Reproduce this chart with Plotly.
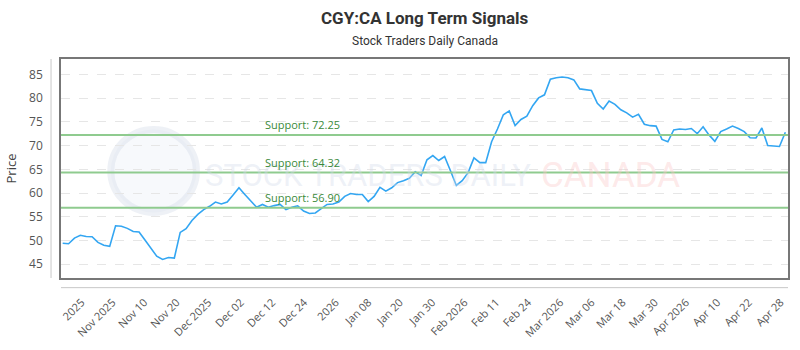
import plotly.graph_objects as go

title = "CGY:CA Long Term Signals"
subtitle = "Stock Traders Daily Canada"

prices = [
    49.4, 49.3, 50.5, 51.1, 50.85, 50.8, 49.6, 49.0, 48.75, 53.1,
    53.0, 52.55, 51.9, 51.8, 50.1, 48.4, 46.7, 46.0, 46.4, 46.3,
    51.7, 52.5, 54.2, 55.5, 56.5,
    57.2, 58.1, 57.7, 58.1, 59.6, 61.1, 59.7, 58.4, 57.0, 57.6,
    57.0, 57.35, 57.6, 56.5, 57.0, 57.3, 56.2, 55.7, 55.8, 56.7,
    57.6, 57.7, 58.1,
    59.3, 59.9, 59.7, 59.7, 58.2, 59.3, 61.2, 60.4, 61.1, 62.2,
    62.6, 63.1, 64.5, 63.7, 67.0, 67.9, 66.85, 67.7, 64.7, 61.6,
    62.6, 64.3, 67.4, 66.4, 66.4, 70.8,
    73.5, 76.5, 77.3, 74.2, 75.5, 76.2, 78.4, 80.05, 80.7, 84.0,
    84.3, 84.45, 84.3, 83.85, 81.95, 81.8, 81.6, 78.9, 77.7, 79.4,
    78.7, 77.55, 76.9, 76.0, 76.6,
    74.5, 74.2, 74.1, 71.3, 70.8, 73.3, 73.5, 73.4, 73.6, 72.5,
    73.95, 72.25, 70.9, 72.95, 73.5, 74.1, 73.6, 72.95, 71.65, 71.6,
    73.7, 70.0, 69.9, 69.8, 72.8,
]
x_idx = list(range(len(prices)))

tick_labels = ["2025", "Nov 2025", "Nov 10", "Nov 20", "Dec 2025", "Dec 02", "Dec 12",
               "Dec 24", "2026", "Jan 08", "Jan 20", "Jan 30", "Feb 2026", "Feb 11",
               "Feb 24", "Mar 2026", "Mar 06", "Mar 18", "Mar 30", "Apr 2026", "Apr 10",
               "Apr 22", "Apr 28"]
tick_pos = [3.2, 8.5, 13.9, 19.4, 24.8, 30.3, 35.7, 41.1, 46.5, 52.0, 57.4, 62.9,
            68.4, 73.8, 79.2, 84.7, 90.0, 95.3, 100.8, 106.1, 111.4, 116.8, 122.2]

supports = [72.25, 64.32, 56.90]

fig = go.Figure()
fig.add_trace(go.Scatter(x=x_idx, y=prices, mode="lines",
                         line=dict(color="#33a6f2", width=1.6),
                         hoverinfo="skip", showlegend=False))

shapes = []
annotations = []

# watermark (drawn first so it sits underneath)
shapes.append(dict(type="circle", xref="paper", yref="paper",
                   x0=(110 - 60) / 730, x1=(196 - 60) / 730,
                   y0=(286 - 218) / 227, y1=(286 - 132) / 227,
                   fillcolor="rgba(225,232,242,0.25)",
                   line=dict(color="rgba(205,215,230,0.35)", width=7), layer="below"))
annotations.append(dict(xref="paper", yref="paper", x=(203 - 60) / 730, y=(286 - 180) / 227,
                        text="STOCK TRADERS DAILY", showarrow=False, xanchor="left",
                        yanchor="middle",
                        font=dict(family="Roboto, sans-serif", size=31,
                                  color="rgba(212,220,234,0.4)")))
annotations.append(dict(xref="paper", yref="paper", x=(540 - 60) / 730, y=(286 - 180) / 227,
                        text="CANADA", showarrow=False, xanchor="left", yanchor="middle",
                        font=dict(family="Roboto, sans-serif", size=35,
                                  color="rgba(250,200,200,0.4)")))

for s in supports:
    shapes.append(dict(type="line", xref="paper", yref="y", x0=0, x1=1, y0=s, y1=s,
                       line=dict(color="#8fcb8f", width=2), layer="above"))
    annotations.append(dict(xref="paper", yref="y", x=(263 - 60) / 730, y=s,
                            text=f"Support: {s:.2f}", showarrow=False,
                            xanchor="left", yanchor="bottom", yshift=1,
                            font=dict(family="Open Sans, sans-serif", size=11, color="#3a8a3a")))

# offset axis lines (Highcharts style)
shapes.append(dict(type="line", xref="paper", yref="paper", x0=-10 / 730, x1=-10 / 730,
                   y0=0, y1=1, line=dict(color="#c8c8c8", width=1)))
shapes.append(dict(type="line", xref="paper", yref="paper", x0=0, x1=1,
                   y0=-10 / 227, y1=-10 / 227, line=dict(color="#c8c8c8", width=1)))

annotations.append(dict(xref="paper", yref="paper", x=0.5, xanchor="center",
                        y=(286 - 16) / 227, yanchor="middle", text=f"<b>{title}</b>",
                        showarrow=False,
                        font=dict(family="Roboto, sans-serif", size=17, color="#333333")))
annotations.append(dict(xref="paper", yref="paper", x=0.5, xanchor="center",
                        y=(286 - 40) / 227, yanchor="middle", text=subtitle,
                        showarrow=False,
                        font=dict(family="Roboto, sans-serif", size=12, color="#333333")))

fig.update_layout(
    width=800, height=350,
    margin=dict(l=60, r=10, t=59, b=64),
    paper_bgcolor="white", plot_bgcolor="white",
    shapes=shapes, annotations=annotations,
    xaxis=dict(range=[-0.29, 123.45], tickmode="array", tickvals=tick_pos,
               ticktext=tick_labels, tickangle=-45, showgrid=False, zeroline=False,
               ticks="outside", ticklen=12, tickcolor="rgba(0,0,0,0)",
               showline=True, mirror=True, linecolor="#777777", linewidth=1.5,
               tickfont=dict(family="Open Sans, sans-serif", size=11, color="#555555")),
    yaxis=dict(range=[42.09, 88.25], tickvals=[45, 50, 55, 60, 65, 70, 75, 80, 85],
               showgrid=True, gridcolor="#e6e6e6", griddash="dash", gridwidth=1,
               zeroline=False, ticks="outside", ticklen=14, tickcolor="rgba(0,0,0,0)",
               showline=True, mirror=True, linecolor="#777777", linewidth=1.5,
               tickfont=dict(family="Open Sans, sans-serif", size=12, color="#555555"),
               title=dict(text="Price", standoff=10,
                          font=dict(family="Open Sans, sans-serif", size=13, color="#444444"))),
)

fig.write_html("out.html")
